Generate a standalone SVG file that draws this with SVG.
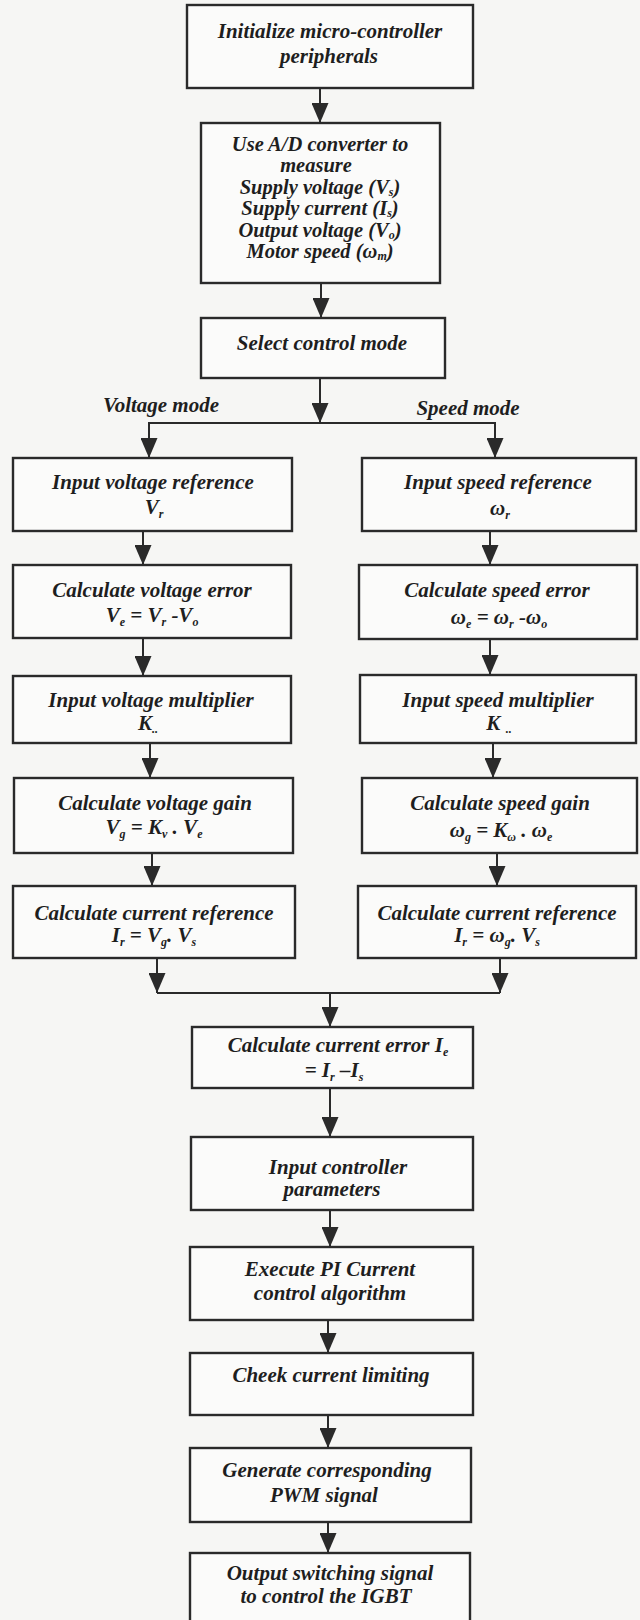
<svg xmlns="http://www.w3.org/2000/svg" width="640" height="1620" viewBox="0 0 640 1620">
<style>
.bg{fill:#f6f6f4}
.box{fill:#fbfbfa;stroke:#2a2a2a;stroke-width:2.4}
.t{font-family:"Liberation Serif","Times New Roman",serif;font-weight:bold;font-style:italic;font-size:21px;fill:#1e1e1e;text-anchor:middle}
.m{font-size:20.5px}
.s{font-size:12px}
.c{fill:none;stroke:#2a2a2a;stroke-width:2}
</style>
<defs>
<marker id="ah" markerUnits="userSpaceOnUse" markerWidth="20" markerHeight="17" refX="20" refY="8.5" orient="auto">
<path d="M0,0 L20,8.5 L0,17 z" fill="#2a2a2a"/>
</marker>
</defs>
<rect class="bg" x="0" y="0" width="640" height="1620"/>

<g id="connectors">
<path class="c" d="M320,88 V123" marker-end="url(#ah)"/>
<path class="c" d="M321,283 V318" marker-end="url(#ah)"/>
<path class="c" d="M320,378 V423" marker-end="url(#ah)"/>
<path class="c" d="M320,423 H149 V458" marker-end="url(#ah)"/>
<path class="c" d="M320,423 H495 V458" marker-end="url(#ah)"/>
<path class="c" d="M143,531 V565" marker-end="url(#ah)"/>
<path class="c" d="M143,638 V676" marker-end="url(#ah)"/>
<path class="c" d="M150,743 V778" marker-end="url(#ah)"/>
<path class="c" d="M152,853 V886" marker-end="url(#ah)"/>
<path class="c" d="M157,958 V993" marker-end="url(#ah)"/>
<path class="c" d="M490,531 V565" marker-end="url(#ah)"/>
<path class="c" d="M490,639 V675" marker-end="url(#ah)"/>
<path class="c" d="M493,743 V778" marker-end="url(#ah)"/>
<path class="c" d="M497,853 V886" marker-end="url(#ah)"/>
<path class="c" d="M500,958 V993" marker-end="url(#ah)"/>
<path class="c" d="M157,993 H500"/>
<path class="c" d="M330,993 V1027" marker-end="url(#ah)"/>
<path class="c" d="M330,1088 V1137" marker-end="url(#ah)"/>
<path class="c" d="M330,1210 V1247" marker-end="url(#ah)"/>
<path class="c" d="M328,1320 V1353" marker-end="url(#ah)"/>
<path class="c" d="M328,1415 V1448" marker-end="url(#ah)"/>
<path class="c" d="M328,1522 V1553" marker-end="url(#ah)"/>
<text class="t" x="161" y="412">Voltage mode</text>
<text class="t" x="468" y="415">Speed mode</text>
</g>

<g id="n1">
<rect class="box" x="187" y="5" width="286" height="83"/>
<text class="t" x="330" y="38">Initialize micro-controller</text>
<text class="t" x="329" y="63">peripherals</text>
</g>

<g id="n2">
<rect class="box" x="201" y="123" width="239" height="160"/>
<text class="t m" x="320" y="151">Use A/D converter to</text>
<text class="t m" x="316" y="172.4">measure</text>
<text class="t m" x="320" y="193.8">Supply voltage (V<tspan class="s" dy="2">s</tspan><tspan dy="-2">)</tspan></text>
<text class="t m" x="320" y="215.2">Supply current (I<tspan class="s" dy="2">s</tspan><tspan dy="-2">)</tspan></text>
<text class="t m" x="320" y="236.6">Output voltage (V<tspan class="s" dy="2">o</tspan><tspan dy="-2">)</tspan></text>
<text class="t m" x="320" y="258">Motor speed (ω<tspan class="s" dy="2">m</tspan><tspan dy="-2">)</tspan></text>
</g>

<g id="n3">
<rect class="box" x="201" y="318" width="244" height="60"/>
<text class="t" x="322" y="350">Select control mode</text>
</g>

<g id="vL1">
<rect class="box" x="13" y="458" width="279" height="73"/>
<text class="t" x="153" y="489">Input voltage reference</text>
<text class="t" x="154" y="514">V<tspan class="s" dy="4">r</tspan></text>
</g>
<g id="vL2">
<rect class="box" x="13" y="565" width="278" height="73"/>
<text class="t" x="152" y="597">Calculate voltage error</text>
<text class="t" x="152" y="622">V<tspan class="s" dy="4">e</tspan><tspan dy="-4"> = V</tspan><tspan class="s" dy="4">r</tspan><tspan dy="-4"> -V</tspan><tspan class="s" dy="4">o</tspan></text>
</g>
<g id="vL3">
<rect class="box" x="13" y="676" width="278" height="67"/>
<text class="t" x="151" y="707">Input voltage multiplier</text>
<text class="t" x="148" y="730">K<tspan class="s" dy="3">..</tspan></text>
</g>
<g id="vL4">
<rect class="box" x="14" y="778" width="279" height="75"/>
<text class="t" x="155" y="810">Calculate voltage gain</text>
<text class="t" x="154" y="834">V<tspan class="s" dy="4">g</tspan><tspan dy="-4"> = K</tspan><tspan class="s" dy="4">v</tspan><tspan dy="-4"> . V</tspan><tspan class="s" dy="4">e</tspan></text>
</g>
<g id="vL5">
<rect class="box" x="13" y="886" width="282" height="72"/>
<text class="t" x="154" y="920">Calculate current reference</text>
<text class="t" x="154" y="942">I<tspan class="s" dy="4">r</tspan><tspan dy="-4"> =  V</tspan><tspan class="s" dy="4">g</tspan><tspan dy="-4">. V</tspan><tspan class="s" dy="4">s</tspan></text>
</g>

<g id="sR1">
<rect class="box" x="362" y="458" width="274" height="73"/>
<text class="t" x="498" y="489">Input speed reference</text>
<text class="t" x="500" y="515">ω<tspan class="s" dy="4">r</tspan></text>
</g>
<g id="sR2">
<rect class="box" x="359" y="565" width="278" height="74"/>
<text class="t" x="497" y="597">Calculate speed error</text>
<text class="t" x="499" y="624">ω<tspan class="s" dy="4">e</tspan><tspan dy="-4"> = ω</tspan><tspan class="s" dy="4">r</tspan><tspan dy="-4"> -ω</tspan><tspan class="s" dy="4">o</tspan></text>
</g>
<g id="sR3">
<rect class="box" x="360" y="675" width="276" height="68"/>
<text class="t" x="498" y="707">Input speed multiplier</text>
<text class="t" x="499" y="730">K <tspan class="s" dy="3">..</tspan></text>
</g>
<g id="sR4">
<rect class="box" x="362" y="778" width="275" height="75"/>
<text class="t" x="500" y="810">Calculate speed gain</text>
<text class="t" x="501" y="837">ω<tspan class="s" dy="4">g</tspan><tspan dy="-4"> = K</tspan><tspan class="s" dy="4">ω</tspan><tspan dy="-4"> .  ω</tspan><tspan class="s" dy="4">e</tspan></text>
</g>
<g id="sR5">
<rect class="box" x="358" y="886" width="278" height="72"/>
<text class="t" x="497" y="920">Calculate current reference</text>
<text class="t" x="497" y="942">I<tspan class="s" dy="4">r</tspan><tspan dy="-4"> =  ω</tspan><tspan class="s" dy="4">g</tspan><tspan dy="-4">. V</tspan><tspan class="s" dy="4">s</tspan></text>
</g>

<g id="c1">
<rect class="box" x="192" y="1027" width="281" height="61"/>
<text class="t" x="338" y="1052">Calculate current error I<tspan class="s" dy="4">e</tspan></text>
<text class="t" x="334" y="1077">= I<tspan class="s" dy="4">r</tspan><tspan dy="-4"> –I</tspan><tspan class="s" dy="4">s</tspan></text>
</g>
<g id="c2">
<rect class="box" x="191" y="1137" width="282" height="73"/>
<text class="t" x="338" y="1174">Input controller</text>
<text class="t" x="332" y="1196">parameters</text>
</g>
<g id="c3">
<rect class="box" x="190" y="1247" width="283" height="73"/>
<text class="t" x="330" y="1276">Execute PI Current</text>
<text class="t" x="330" y="1300">control algorithm</text>
</g>
<g id="c4">
<rect class="box" x="190" y="1353" width="283" height="62"/>
<text class="t" x="331" y="1382">Cheek current limiting</text>
</g>
<g id="c5">
<rect class="box" x="190" y="1448" width="281" height="74"/>
<text class="t" x="327" y="1477">Generate corresponding</text>
<text class="t" x="324" y="1502">PWM signal</text>
</g>
<g id="c6">
<rect class="box" x="190" y="1553" width="280" height="80"/>
<text class="t" x="330" y="1580">Output switching signal</text>
<text class="t" x="326" y="1603">to control the  IGBT</text>
</g>
</svg>
